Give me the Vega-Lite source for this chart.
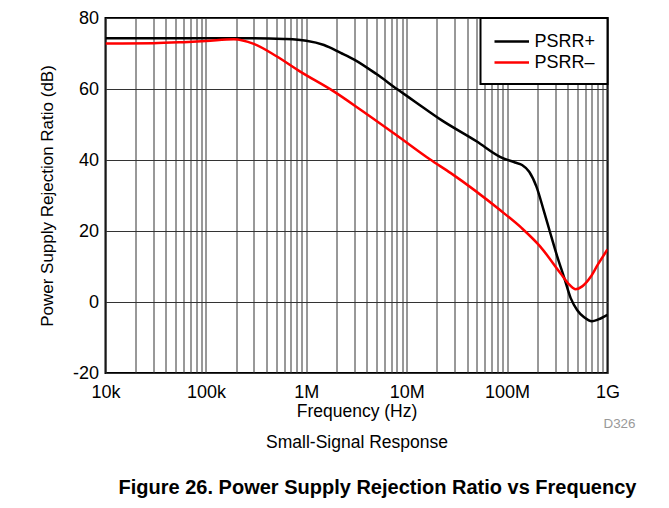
{
  "$schema": "https://vega.github.io/schema/vega-lite/v6.json",
  "width": 502,
  "height": 355,
  "padding": {"left": 37.5, "top": 9, "right": 5, "bottom": 5},
  "config": {
    "font": "Liberation Sans",
    "view": {"stroke": "#000000", "strokeWidth": 2},
    "axis": {"labelFont": "Liberation Sans", "titleFont": "Liberation Sans", "labelColor": "#000", "titleColor": "#000", "labelFontSize": 18, "titleFontSize": 17, "titleFontWeight": "normal", "ticks": false, "domain": false, "gridColor": "#333333", "gridOpacity": 1, "gridWidth": 1, "labelFlush": false},
    "legend": {"labelFont": "Liberation Sans"}
  },
  "title": {
    "text": "Figure 26. Power Supply Rejection Ratio vs Frequency",
    "orient": "bottom",
    "anchor": "middle",
    "font": "Liberation Sans",
    "fontSize": 20,
    "fontWeight": "bold",
    "color": "#000",
    "dx": 21,
    "offset": 27
  },
  "data": {
    "values": [
      {"f": 10000, "db": 74.3, "s": "PSRR+"},
      {"f": 100000, "db": 74.3, "s": "PSRR+"},
      {"f": 300000, "db": 74.3, "s": "PSRR+"},
      {"f": 600000, "db": 74.1, "s": "PSRR+"},
      {"f": 1000000, "db": 73.6, "s": "PSRR+"},
      {"f": 1500000, "db": 72.4, "s": "PSRR+"},
      {"f": 2200000, "db": 70.2, "s": "PSRR+"},
      {"f": 3000000, "db": 68.3, "s": "PSRR+"},
      {"f": 5000000, "db": 64.2, "s": "PSRR+"},
      {"f": 8000000, "db": 60.0, "s": "PSRR+"},
      {"f": 12000000, "db": 56.5, "s": "PSRR+"},
      {"f": 22000000, "db": 51.3, "s": "PSRR+"},
      {"f": 50000000, "db": 45.2, "s": "PSRR+"},
      {"f": 85000000, "db": 40.9, "s": "PSRR+"},
      {"f": 120000000, "db": 39.3, "s": "PSRR+"},
      {"f": 141000000, "db": 38.6, "s": "PSRR+"},
      {"f": 166000000, "db": 36.7, "s": "PSRR+"},
      {"f": 196000000, "db": 32.5, "s": "PSRR+"},
      {"f": 231000000, "db": 25.9, "s": "PSRR+"},
      {"f": 270000000, "db": 19.3, "s": "PSRR+"},
      {"f": 316000000, "db": 12.8, "s": "PSRR+"},
      {"f": 368000000, "db": 7.1, "s": "PSRR+"},
      {"f": 430000000, "db": 1.1, "s": "PSRR+"},
      {"f": 500000000, "db": -2.3, "s": "PSRR+"},
      {"f": 585000000, "db": -4.3, "s": "PSRR+"},
      {"f": 700000000, "db": -5.4, "s": "PSRR+"},
      {"f": 810000000, "db": -4.9, "s": "PSRR+"},
      {"f": 1000000000, "db": -3.6, "s": "PSRR+"},
      {"f": 10000, "db": 72.8, "s": "PSRR–"},
      {"f": 30000, "db": 72.9, "s": "PSRR–"},
      {"f": 60000, "db": 73.2, "s": "PSRR–"},
      {"f": 100000, "db": 73.5, "s": "PSRR–"},
      {"f": 190000, "db": 74.0, "s": "PSRR–"},
      {"f": 300000, "db": 72.7, "s": "PSRR–"},
      {"f": 500000, "db": 69.3, "s": "PSRR–"},
      {"f": 870000, "db": 64.9, "s": "PSRR–"},
      {"f": 1860000, "db": 59.4, "s": "PSRR–"},
      {"f": 3500000, "db": 54.1, "s": "PSRR–"},
      {"f": 8000000, "db": 46.9, "s": "PSRR–"},
      {"f": 17000000, "db": 40.2, "s": "PSRR–"},
      {"f": 27500000, "db": 36.3, "s": "PSRR–"},
      {"f": 85000000, "db": 25.9, "s": "PSRR–"},
      {"f": 140000000, "db": 20.8, "s": "PSRR–"},
      {"f": 214000000, "db": 15.6, "s": "PSRR–"},
      {"f": 340000000, "db": 8.1, "s": "PSRR–"},
      {"f": 420000000, "db": 4.8, "s": "PSRR–"},
      {"f": 480000000, "db": 3.6, "s": "PSRR–"},
      {"f": 560000000, "db": 4.4, "s": "PSRR–"},
      {"f": 680000000, "db": 7.1, "s": "PSRR–"},
      {"f": 800000000, "db": 10.5, "s": "PSRR–"},
      {"f": 1000000000, "db": 14.8, "s": "PSRR–"}
    ]
  },
  "layer": [
    {
      "mark": {"type": "line", "interpolate": "monotone", "strokeWidth": 2.5, "clip": true},
      "encoding": {
        "x": {
          "field": "f", "type": "quantitative",
          "scale": {"type": "log", "domain": [10000, 1000000000], "nice": false},
          "axis": {
            "title": ["Frequency (Hz)", "Small-Signal Response"],
            "titleLineHeight": 31,
            "titleFontSize": 17.5,
            "values": [10000,20000,30000,40000,50000,60000,70000,80000,90000,100000,200000,300000,400000,500000,600000,700000,800000,900000,1000000,2000000,3000000,4000000,5000000,6000000,7000000,8000000,9000000,10000000,20000000,30000000,40000000,50000000,60000000,70000000,80000000,90000000,100000000,200000000,300000000,400000000,500000000,600000000,700000000,800000000,900000000,1000000000],
            "labelExpr": "datum.value == 10000 ? '10k' : datum.value == 100000 ? '100k' : datum.value == 1000000 ? '1M' : datum.value == 10000000 ? '10M' : datum.value == 100000000 ? '100M' : datum.value == 1000000000 ? '1G' : ''",
            "labelOverlap": false,
            "labelPadding": 10,
            "titlePadding": 1,
            "grid": true
          }
        },
        "y": {
          "field": "db", "type": "quantitative",
          "scale": {"domain": [-20, 80], "nice": false},
          "axis": {
            "title": "Power Supply Rejection Ratio (dB)",
            "values": [-20, 0, 20, 40, 60, 80],
            "labelExpr": "'' + datum.value",
            "labelPadding": 7,
            "titlePadding": 16,
            "grid": true
          }
        },
        "color": {
          "field": "s", "type": "nominal",
          "scale": {"domain": ["PSRR+", "PSRR–"], "range": ["#000000", "#ff0000"]},
          "legend": {
            "title": null,
            "orient": "top-right",
            "offset": 0,
            "fillColor": "#ffffff",
            "strokeColor": "#000000",
            "padding": 12,
            "symbolType": "M-0.95,0H2.5",
            "symbolSize": 400,
            "symbolStrokeWidth": 2.5,
            "labelFontSize": 18,
            "labelColor": "#000",
            "rowPadding": 0,
            "labelOffset": 19,
            "encode": {"legend": {"update": {"strokeWidth": {"value": 2}}}}
          }
        }
      }
    },
    {
      "data": {"values": [{}]},
      "mark": {"type": "text", "text": "D326", "fontSize": 13.4, "color": "#999999", "dy": 51, "dx": 12, "align": "center", "baseline": "middle"},
      "encoding": {
        "x": {"datum": 1000000000, "type": "quantitative"},
        "y": {"datum": -20, "type": "quantitative"}
      }
    }
  ]
}
